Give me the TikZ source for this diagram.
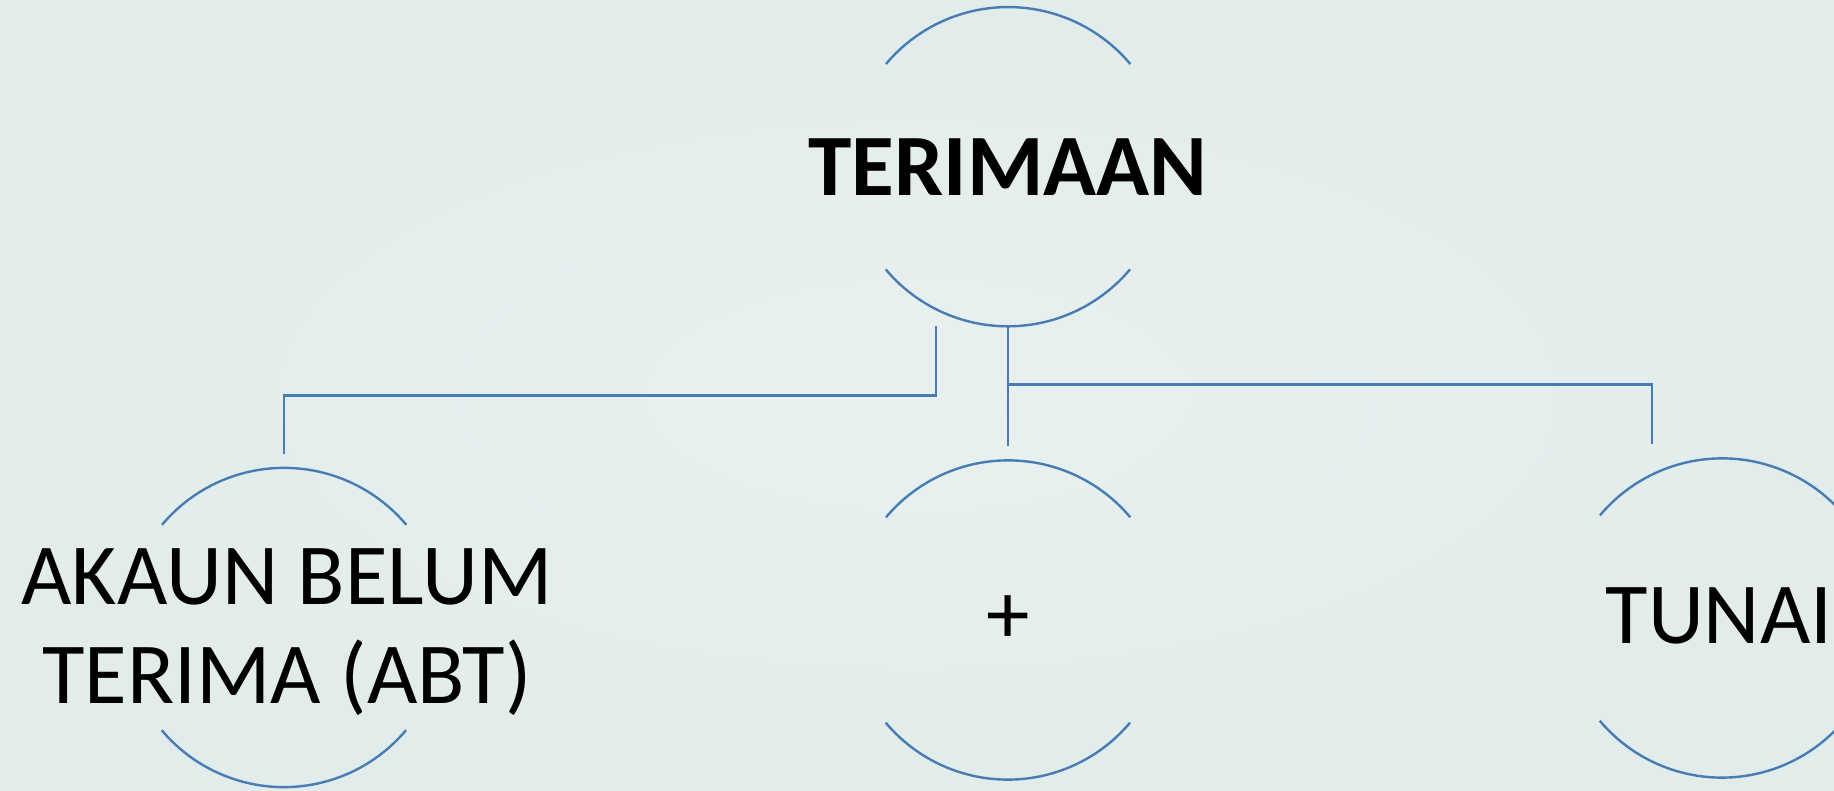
\documentclass[tikz,border=0pt]{standalone}
\usepackage{fontspec}
\setmainfont{Carlito}
\definecolor{linecol}{RGB}{72,124,180}
\definecolor{bginner}{RGB}{233,241,240}
\definecolor{bgouter}{RGB}{225,236,235}
\begin{document}
\begin{tikzpicture}[x=1pt,y=1pt,
  ring/.style={circle,minimum size=319pt,inner sep=0pt,draw=none},
  conn/.style={draw=linecol,line width=2.4pt},
  lbl/.style={inner sep=0pt,align=center,font=\fontsize{87}{99}\selectfont},
  lblbold/.style={inner sep=0pt,align=center,font=\fontsize{87.5}{97}\bfseries}]
\useasboundingbox (0,0) rectangle (1834,790);
\clip (0,0) rectangle (1834,790);
\shade[inner color=bginner,outer color=bgouter] (0,0) rectangle (1834,790);
% circles (invisible nodes)
\node[ring] (t) at (1008,623.3) {};
\node[ring] (l) at (284,162.5) {};
\node[ring] (m) at (1008,170) {};
\node[ring] (r) at (1722,172) {};
% texts
\node[lbl] (lt) at (287,158) {AKAUN BELUM\\TERIMA (ABT)};
\node[lblbold] (tt) at (t) {TERIMAAN};
\node[lbl] (mt) at (m) {+};
\node[lbl] (rt) at (1719,174) {TUNAI};
% arcs
\foreach \n in {t,l,m,r}{
  \draw[conn] (\n.40) arc[start angle=40,end angle=140,radius=159.5pt];
  \draw[conn] (\n.220) arc[start angle=220,end angle=320,radius=159.5pt];
}
% connectors
\draw[conn] ([xshift=-72pt]t.south) -- ++(0,-69) -| ([yshift=14pt]l.north);
\draw[conn] (t.south) -- ([yshift=14pt]m.north);
\draw[conn] ([yshift=-58pt]t.south) -| ([xshift=-70pt,yshift=14pt]r.north);
\end{tikzpicture}
\end{document}
